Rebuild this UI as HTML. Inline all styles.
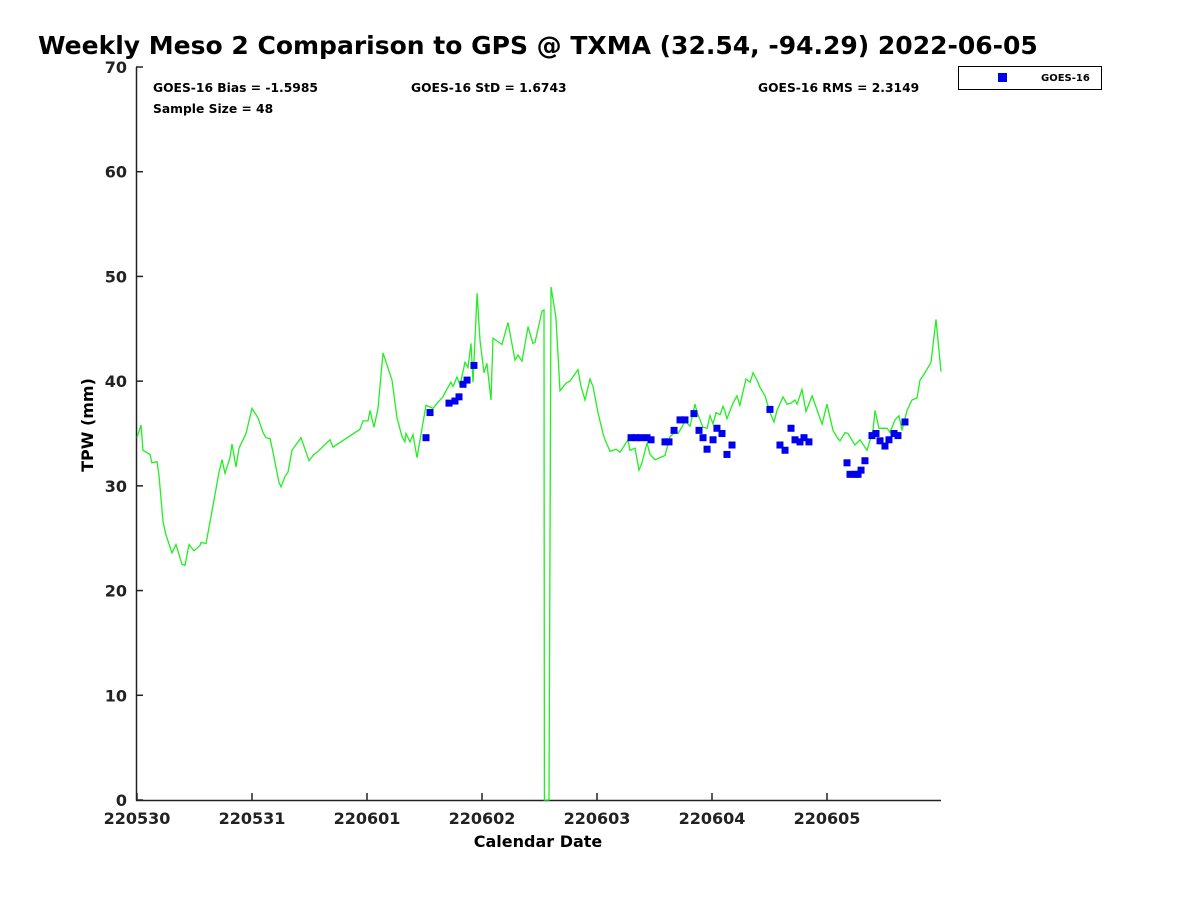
<!DOCTYPE html>
<html><head><meta charset="utf-8"><style>
body{margin:0;background:#fff;}
svg{display:block;font-family:"DejaVu Sans","Liberation Sans",sans-serif;}
</style></head><body>
<svg id="c" width="1200" height="900">
<text x="38" y="54" font-size="25" font-weight="bold">Weekly Meso 2 Comparison to GPS @ TXMA (32.54, -94.29) 2022-06-05</text>
<text x="153" y="92" font-size="12.3" font-weight="bold">GOES-16 Bias = -1.5985</text>
<text x="411" y="92" font-size="12.3" font-weight="bold">GOES-16 StD = 1.6743</text>
<text x="758" y="92" font-size="12.3" font-weight="bold">GOES-16 RMS = 2.3149</text>
<text x="153" y="113" font-size="12.3" font-weight="bold">Sample Size = 48</text>
<g>
<rect x="958.5" y="66.5" width="143" height="23" fill="#fff" stroke="#000"/>
<rect x="998" y="73" width="9" height="9" fill="#0000ee"/>
<text x="1041" y="81" font-size="10" font-weight="bold">GOES-16</text>
</g>
<text transform="translate(93,425) rotate(-90)" text-anchor="middle" font-size="16" font-weight="bold">TPW (mm)</text>
<text x="538" y="847" text-anchor="middle" font-size="16" font-weight="bold">Calendar Date</text>
<g id="ax"></g>
<g id="marks"></g>
</svg>
<script>
const xTickLabels=["220530","220531","220601","220602","220603","220604","220605"];
const yTicks=[0,10,20,30,40,50,60,70];
const gpsT=[0,.035,.052,.113,.13,.174,.191,.226,.252,.304,.339,.391,.417,.452,.496,.548,.557,.6,.643,.713,.739,.765,.809,.826,.861,.887,.948,1.0,1.052,1.096,1.122,1.157,1.183,1.235,1.252,1.287,1.313,1.348,1.426,1.496,1.539,1.565,1.678,1.704,1.939,1.965,2.009,2.026,2.061,2.096,2.139,2.217,2.261,2.304,2.330,2.339,2.374,2.4,2.435,2.513,2.574,2.617,2.661,2.678,2.730,2.748,2.783,2.809,2.852,2.878,2.904,2.922,2.957,2.983,3.017,3.043,3.078,3.096,3.174,3.226,3.287,3.313,3.348,3.4,3.443,3.461,3.522,3.539,3.543,3.583,3.6,3.643,3.678,3.730,3.765,3.835,3.861,3.896,3.939,3.965,4.009,4.052,4.07,4.113,4.165,4.2,4.27,4.287,4.330,4.365,4.391,4.435,4.461,4.504,4.591,4.635,4.687,4.704,4.748,4.765,4.809,4.852,4.870,4.922,4.957,4.983,5.009,5.035,5.07,5.096,5.113,5.130,5.183,5.217,5.243,5.296,5.330,5.357,5.391,5.417,5.461,5.504,5.539,5.565,5.617,5.652,5.687,5.722,5.739,5.783,5.817,5.870,5.922,5.957,6.0,6.052,6.096,6.113,6.157,6.183,6.243,6.287,6.348,6.4,6.417,6.452,6.522,6.548,6.591,6.626,6.652,6.696,6.739,6.783,6.809,6.852,6.904,6.948,6.991];
const gpsV=[34.6,35.8,33.4,33.0,32.2,32.3,31.0,26.6,25.3,23.6,24.4,22.5,22.4,24.4,23.8,24.3,24.6,24.5,27.0,31.3,32.5,31.2,32.7,34.0,31.8,33.6,35.0,37.4,36.5,35.1,34.6,34.5,33.2,30.3,29.9,30.9,31.3,33.4,34.6,32.4,33.0,33.2,34.4,33.7,35.4,36.2,36.2,37.2,35.6,37.4,42.7,40.1,36.5,34.7,34.2,35.0,34.2,34.9,32.7,37.7,37.4,38.0,38.5,38.9,39.9,39.5,40.4,39.6,41.8,41.3,43.6,39.9,48.4,43.9,40.8,41.7,38.2,44.1,43.5,45.6,42.0,42.5,41.9,45.2,43.6,43.7,46.7,46.8,0,0,49.0,46.1,39.1,39.8,40.0,41.1,39.5,38.2,40.2,39.5,37.0,35.0,34.4,33.3,33.5,33.2,34.4,33.4,33.6,31.5,32.2,34.1,33.0,32.5,32.9,34.7,35.2,35.0,35.8,36.2,35.7,37.8,37.0,35.6,35.5,36.7,35.9,37.0,36.8,37.6,37.1,36.4,37.9,38.6,37.7,40.2,39.9,40.8,40.1,39.4,38.6,37.0,36.1,37.2,38.5,37.8,37.9,38.2,37.8,39.2,37.1,38.6,37.0,35.9,37.8,35.3,34.5,34.3,35.1,35.0,33.9,34.4,33.4,35.3,37.2,35.5,35.5,35.1,36.3,36.7,35.3,37.2,38.2,38.4,40.1,40.8,41.8,45.9,40.9];
const goesT=[2.513,2.548,2.713,2.765,2.800,2.835,2.870,2.930,4.296,4.339,4.383,4.435,4.470,4.591,4.626,4.670,4.722,4.765,4.843,4.887,4.922,4.957,5.009,5.043,5.087,5.130,5.174,5.504,5.591,5.635,5.687,5.722,5.765,5.800,5.843,6.174,6.200,6.243,6.270,6.296,6.330,6.391,6.426,6.461,6.504,6.539,6.583,6.617,6.678];
const goesV=[34.6,37.0,37.9,38.1,38.5,39.7,40.1,41.5,34.6,34.6,34.6,34.6,34.4,34.2,34.2,35.3,36.3,36.3,36.9,35.3,34.6,33.5,34.4,35.5,35.0,33.0,33.9,37.3,33.9,33.4,35.5,34.4,34.2,34.6,34.2,32.2,31.1,31.1,31.1,31.5,32.4,34.8,35.0,34.3,33.8,34.4,35.0,34.8,36.1];
const X0=137,DAY=115,Y0=800,YS=733/70;
const xs=t=>X0+t*DAY, ys=v=>Y0-v*YS;
const NS="http://www.w3.org/2000/svg";
function mk(tag,attrs,parent){const e=document.createElementNS(NS,tag);for(const k in attrs)e.setAttribute(k,attrs[k]);parent.appendChild(e);return e;}
const ax=document.getElementById('ax'), marks=document.getElementById('marks');
let l=mk('line',{x1:136.5,y1:67,x2:136.5,y2:800.5,stroke:'#222','stroke-width':1.5},ax);


l=mk('line',{x1:136,y1:800.5,x2:941,y2:800.5,stroke:'#222','stroke-width':1.5},ax);


yTicks.forEach(v=>{const y=ys(v);
 const t=mk('line',{x1:136,y1:y,x2:143,y2:y,stroke:'#222','stroke-width':1.5},ax);
 
 
 const tx=mk('text',{x:127,y:y+6,'text-anchor':'end','font-size':16,'font-weight':'bold',fill:'#222'},ax);tx.textContent=v;
 
 
});
xTickLabels.forEach((s,i)=>{const x=xs(i);
 const t=mk('line',{x1:x,y1:800,x2:x,y2:793,stroke:'#222','stroke-width':1.5},ax);
 
 
 const tx=mk('text',{x:x,y:824,'text-anchor':'middle','font-size':16,'font-weight':'bold',fill:'#222'},ax);tx.textContent=s;
 
 
});
const pl=mk('polyline',{points:gpsT.map((t,i)=>xs(t).toFixed(1)+','+ys(gpsV[i]).toFixed(1)).join(' '),fill:'none',stroke:'#22ee22','stroke-width':1.3},marks);


goesT.forEach((t,i)=>{
 const r=mk('rect',{x:xs(t)-3.5,y:ys(goesV[i])-3.5,width:7,height:7,fill:'#0000ee'},marks);
 
 
});
</script>
</body></html>
